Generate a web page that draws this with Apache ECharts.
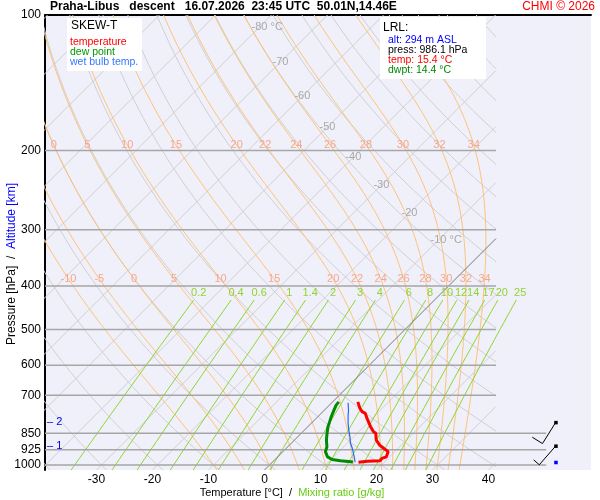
<!DOCTYPE html>
<html><head><meta charset="utf-8">
<script src="https://cdn.jsdelivr.net/npm/echarts@6/dist/echarts.min.js"></script>
<style>html,body{margin:0;padding:0;background:#fff}#c{width:600px;height:500px}</style>
</head><body><div id="c"></div>
<script>
// ---------------- data ----------------
const pressureTicks = [100,200,300,400,500,600,700,850,925,1000];
const pressureLinesShort = [200,300,400,500,600,700];
const pressureLinesLong = [850,925,1000];
const tempTicks = [-30,-20,-10,0,10,20,30,40];
const isothermValues = [-120,-110,-100,-90,-80,-70,-60,-50,-40,-30,-20,-10,0,10,20,30,40];
const isothermLabelValues = [-80,-70,-60,-50,-40,-30,-20,-10];
const isothermLabelTexts = ['-80 °C','-70','-60','-50','-40','-30','-20','-10 °C'];
const dryAdiabatValues = [-40,-30,-20,-10,0,10,20,30,40,50,60,70,80,90,100,110,120,130,140,150,160,170,180];
const moistAdiabatValues = [-10,-5,0,5,10,15,20,22,24,26,28,30,32,34];
const mixingRatioValues = [0.2,0.4,0.6,1,1.4,2,3,4,6,8,10,12,14,17,20,25];

const tempP = [986.1,981,978,967,959,934,918,903,880,850,843,822,788,768,761,748,724];
const tempT = [15.4,16.8,19.0,18.9,19.4,18.8,17.4,16.1,14.6,13.3,12.6,11.2,9.1,7.9,7.0,6.0,4.5];
const dewP  = [986.1,983,978,972,959,934,911,880,850,822,801,781,755,736,724];
const dewT  = [14.4,13.9,11.9,10.2,8.9,7.6,7.0,5.7,4.6,3.6,3.0,2.4,1.7,1.2,1.1];
const wbP   = [986.1,981,967,942,918,895,865,836,808,781,755,727];
const wbT   = [14.8,14.7,14.0,12.9,11.8,10.6,9.3,7.9,6.6,5.4,4.3,2.9];

const altKm = [1,2];
const altP = [907,804];
const windDir = [221,212];
const windSpd = [5,10];
const surfaceP = 986.1;

// ---------------- layout constants ----------------
const PB = 1025.9;          // pressure at bottom of plot
const SKEW = 80.357;        // skew in °C per decade of pressure
const XMIN = -39.2, XMAX = 58.3;
const XR = 41.34;           // right edge of the diagram
const XR2 = 50.3;           // right end of the low-level pressure lines
const BARB_X = 52.0;
const MOIST_LABEL_P = [194.5, 386];
const MIX_TOP_P = 430, MIX_LABEL_P = 415;
const ISO_LABEL_P = [106.3,127.2,151.4,177.4,206.9,238.8,275.4,316.2];
const FONT = 'Arial, "Liberation Sans", sans-serif';

const RD = 287.04, CP = 1005.7, LV = 2.501e6, EPS = 0.622;
function skewX(T, p){ return T + SKEW*Math.log10(PB/p); }
function esat(Tc){ return 6.112*Math.exp(17.67*Tc/(Tc+243.5)); }

function clipSegs(pts, xr){
  const segs=[]; let cur=[];
  for(let i=0;i<pts.length;i++){
    const a=pts[i];
    if(i>0){
      const b=pts[i-1];
      const ina=a[0]<=xr, inb=b[0]<=xr;
      if(ina!==inb){
        const t=(xr-b[0])/(a[0]-b[0]);
        const lp=Math.log(b[1])+t*(Math.log(a[1])-Math.log(b[1]));
        const c=[xr, Math.exp(lp)];
        if(inb){ cur.push(c); segs.push(cur); cur=[]; } else { cur=[c]; }
      }
    }
    if(a[0]<=xr) cur.push(a);
  }
  if(cur.length>1) segs.push(cur);
  return segs.filter(s=>s.length>1);
}
function xAtP(pts, pl){
  for(let i=0;i<pts.length-1;i++){
    const a=pts[i], b=pts[i+1];
    if((a[1]-pl)*(b[1]-pl)<=0){
      const t=(Math.log(pl)-Math.log(a[1]))/(Math.log(b[1])-Math.log(a[1]));
      return a[0]+t*(b[0]-a[0]);
    }
  }
  return null;
}
function dryCurve(thC){
  const out=[]; const n=120; const th=thC+273.15;
  for(let i=0;i<=n;i++){
    const p=Math.exp(Math.log(PB)+(Math.log(100)-Math.log(PB))*i/n);
    const T=th*Math.pow(p/1000,RD/CP)-273.15;
    out.push([skewX(T,p),p]);
  }
  return out;
}
function moistCurve(thw){
  const f=(T,p)=>{const Tc=T-273.15; const e=esat(Tc); const r=EPS*e/(p-e); return (RD*T+LV*r)/(CP+LV*LV*r*EPS/(RD*T*T));};
  function integ(pEnd,n){
    let T=thw+273.15, lp=Math.log(1000); const h=(Math.log(pEnd)-lp)/n; const res=[[T,1000]];
    for(let i=0;i<n;i++){
      const k1=f(T,Math.exp(lp)), k2=f(T+h*k1/2,Math.exp(lp+h/2)), k3=f(T+h*k2/2,Math.exp(lp+h/2)), k4=f(T+h*k3,Math.exp(lp+h));
      T+=h*(k1+2*k2+2*k3+k4)/6; lp+=h; res.push([T,Math.exp(lp)]);
    }
    return res;
  }
  const up=integ(100,200), down=integ(PB,6);
  const all=down.reverse().slice(0,-1).concat(up);
  return all.map(([TK,p])=>[skewX(TK-273.15,p),p]);
}
function mixCurve(w){
  const out=[]; const n=30;
  for(let i=0;i<=n;i++){
    const p=Math.exp(Math.log(PB)+(Math.log(MIX_TOP_P)-Math.log(PB))*i/n);
    const e=w*p/(622+w); const L=Math.log(e/6.112);
    const Td=243.5*L/(17.67-L);
    out.push([skewX(Td,p),p]);
  }
  return out;
}

const series=[];
function lineSeries(data,color,width,z){
  series.push({type:'line',data,symbol:'none',silent:true,animation:false,z,
    lineStyle:{color,width},emphasis:{disabled:true}});
}
function textSeries(points,texts,color,font,align,dx,dy,z){
  series.push({type:'custom',coordinateSystem:'cartesian2d',data:points,clip:false,silent:true,z,animation:false,
    renderItem:(params,api)=>{const c=api.coord([api.value(0),api.value(1)]);
      return {type:'text',x:c[0]+dx,y:c[1]+dy,style:{text:texts[params.dataIndex],fill:color,font,align,verticalAlign:'middle'}};}});
}

// isotherms
isothermValues.forEach(T=>{
  const pts=[[skewX(T,PB),PB],[skewX(T,100),100]];
  clipSegs(pts,XR).forEach(s=>lineSeries(s,T===0?'#777777':'#cfcfcf',1,T===0?3:1));
});
// dry adiabats
dryAdiabatValues.forEach(th=>clipSegs(dryCurve(th),XR).forEach(s=>lineSeries(s,'#cfcfcf',1,1)));
// moist adiabats
const moistLabPts=[], moistLabTxt=[];
moistAdiabatValues.forEach(thw=>{
  const c=moistCurve(thw);
  clipSegs(c,XR).forEach(s=>lineSeries(s,'#ffc072',1,2));
  MOIST_LABEL_P.forEach(pl=>{const x=xAtP(c,pl); if(x!==null && x>XMIN+1 && x<XR){moistLabPts.push([x,pl]); moistLabTxt.push(String(thw));}});
});
// mixing ratio lines
const mixLabPts=[], mixLabTxt=[];
mixingRatioValues.forEach(w=>{
  const c=mixCurve(w); lineSeries(c,'#8fd42e',1,2);
  const e=w*MIX_LABEL_P/(622+w); const L=Math.log(e/6.112);
  mixLabPts.push([skewX(243.5*L/(17.67-L),MIX_LABEL_P),MIX_LABEL_P]); mixLabTxt.push(String(w));
});
// pressure lines
pressureLinesShort.forEach(p=>lineSeries([[XMIN,p],[XR,p]],'#a6a6a6',1.5,4));
pressureLinesLong.forEach(p=>lineSeries([[XMIN,p],[XR2,p]],'#a6a6a6',1.5,4));

// labels
textSeries(isothermLabelValues.map((T,i)=>[skewX(T,ISO_LABEL_P[i]),ISO_LABEL_P[i]]),isothermLabelTexts,'#a9a9a9','11px '+FONT,'left',-8,0,6);
textSeries(moistLabPts,moistLabTxt,'#f7a68c','11px '+FONT,'center',0,0,6);
textSeries(mixLabPts,mixLabTxt,'#8fd42e','11px '+FONT,'center',0,0,6);
textSeries(altP.map(p=>[XMIN,p]),altKm.map(k=>'– '+k),'#0000ee','11px '+FONT,'left',2,0,6);

// profiles
lineSeries(tempP.map((p,i)=>[skewX(tempT[i],p),p]),'#ff0000',3,10);
lineSeries(dewP.map((p,i)=>[skewX(dewT[i],p),p]),'#008a00',3,10);
lineSeries(wbP.map((p,i)=>[skewX(wbT[i],p),p]),'#1e6bff',1.2,11);

// wind barbs
series.push({type:'custom',coordinateSystem:'cartesian2d',clip:false,silent:true,animation:false,z:12,
  data:altP.map((p,i)=>[BARB_X,p,windDir[i],windSpd[i]]),
  renderItem:(params,api)=>{
    const c=api.coord([api.value(0),api.value(1)]);
    const d=api.value(2)*Math.PI/180, spd=api.value(3);
    const u=[Math.sin(d),-Math.cos(d)], v=[-u[1],u[0]];
    const L=25; const e=[c[0]+u[0]*L,c[1]+u[1]*L];
    const ch=[{type:'line',shape:{x1:c[0],y1:c[1],x2:e[0],y2:e[1]},style:{stroke:'#000',lineWidth:1}}];
    let full=Math.floor(spd/10), half=(spd%10)>=5?1:0, pos=0;
    for(let k=0;k<full;k++){const b=[e[0]-u[0]*pos,e[1]-u[1]*pos];
      ch.push({type:'line',shape:{x1:b[0],y1:b[1],x2:b[0]+v[0]*12,y2:b[1]+v[1]*12},style:{stroke:'#000',lineWidth:1}}); pos+=4;}
    if(half){const b=[e[0]-u[0]*pos,e[1]-u[1]*pos];
      ch.push({type:'line',shape:{x1:b[0],y1:b[1],x2:b[0]+v[0]*7.5,y2:b[1]+v[1]*7.5},style:{stroke:'#000',lineWidth:1}});}
    ch.push({type:'rect',shape:{x:c[0]-1.5,y:c[1]-1.5,width:3.5,height:3.5},style:{fill:'#000'}});
    return {type:'group',children:ch};
  }});
series.push({type:'custom',coordinateSystem:'cartesian2d',clip:false,silent:true,animation:false,z:12,
  data:[[BARB_X,surfaceP]],
  renderItem:(params,api)=>{const c=api.coord([api.value(0),api.value(1)]);
    return {type:'rect',shape:{x:c[0]-1.5,y:c[1]-1.5,width:3.5,height:3.5},style:{fill:'#0000ff'}};}});

const chart=echarts.init(document.getElementById('c'),null,{renderer:'canvas'});
chart.setOption({
  animation:false,
  grid:{left:45,right:9,top:15,bottom:30,show:true,backgroundColor:'#f0f0fb',borderWidth:0,containLabel:false},
  xAxis:[
    {type:'value',min:XMIN,max:XMAX,position:'bottom',axisLine:{show:false,onZero:false},axisTick:{show:false},splitLine:{show:false},
     axisLabel:{customValues:tempTicks,color:'#000',fontSize:12,fontFamily:FONT,margin:4}},
    {type:'value',min:XMIN,max:XMAX,position:'top',axisLine:{show:true,onZero:false,lineStyle:{color:'#000',width:2}},axisTick:{show:false},splitLine:{show:false},axisLabel:{show:false}}
  ],
  yAxis:{type:'log',logBase:10,inverse:true,min:100,max:PB,position:'left',axisLine:{show:true,onZero:false,lineStyle:{color:'#000',width:2}},axisTick:{show:false},splitLine:{show:false},
     axisLabel:{customValues:pressureTicks,formatter:v=>String(Math.round(v)),color:'#000',fontSize:12,fontFamily:FONT,margin:4}},
  series,
  graphic:[
    {type:'text',left:50,top:1,z:20,style:{text:'Praha-Libus   descent   16.07.2026  23:45 UTC  50.01N,14.46E',font:'bold 12px '+FONT,fill:'#000'}},
    {type:'text',right:5,top:1,z:20,style:{text:'CHMI © 2026',font:'12px '+FONT,fill:'#ff0000'}},
    {type:'rect',shape:{x:67,y:18,width:75,height:53},style:{fill:'#fff'},z:20},
    {type:'text',x:71,y:26,z:21,style:{text:'SKEW-T',font:'12px '+FONT,fill:'#000',verticalAlign:'middle'}},
    {type:'text',x:70,y:42,z:21,style:{text:'temperature',font:'10.5px '+FONT,fill:'#ff0000',verticalAlign:'middle'}},
    {type:'text',x:70,y:52,z:21,style:{text:'dew point',font:'10.5px '+FONT,fill:'#009900',verticalAlign:'middle'}},
    {type:'text',x:70,y:62,z:21,style:{text:'wet bulb temp.',font:'10.5px '+FONT,fill:'#3377ff',verticalAlign:'middle'}},
    {type:'rect',shape:{x:380,y:17,width:106,height:62},style:{fill:'#fff'},z:20},
    {type:'text',x:383,y:28,z:21,style:{text:'LRL:',font:'12px '+FONT,fill:'#000',verticalAlign:'middle'}},
    {type:'text',x:388,y:40,z:21,style:{text:'alt: 294 m ASL',font:'10.5px '+FONT,fill:'#0000ff',verticalAlign:'middle'}},
    {type:'text',x:388,y:50,z:21,style:{text:'press: 986.1 hPa',font:'10.5px '+FONT,fill:'#000',verticalAlign:'middle'}},
    {type:'text',x:388,y:60.5,z:21,style:{text:'temp: 15.4 °C',font:'10.5px '+FONT,fill:'#ff0000',verticalAlign:'middle'}},
    {type:'text',x:388,y:70.5,z:21,style:{text:'dwpt: 14.4 °C',font:'10.5px '+FONT,fill:'#008800',verticalAlign:'middle'}},
    {type:'text',x:12,y:264,rotation:Math.PI/2,z:21,style:{text:'{a|Pressure [hPa]}  /  {b|Altitude [km]}',align:'center',verticalAlign:'middle',font:'12px '+FONT,
      rich:{a:{fill:'#000',font:'12px '+FONT},b:{fill:'#0000ff',font:'12px '+FONT}}}},
    {type:'text',x:292,y:493,z:21,style:{text:'{a|Temperature [°C]}  /  {b|Mixing ratio [g/kg]}',align:'center',verticalAlign:'middle',font:'11px '+FONT,
      rich:{a:{fill:'#000',font:'11px '+FONT},b:{fill:'#66cc11',font:'11px '+FONT}}}}
  ]
});
</script></body></html>
